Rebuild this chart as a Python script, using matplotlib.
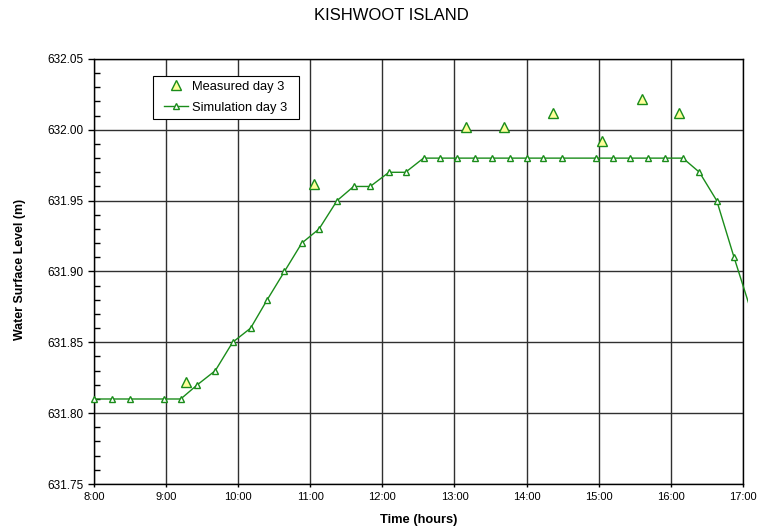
import numpy as np
import matplotlib
matplotlib.use("Agg")
from matplotlib import pyplot as plt
from matplotlib.transforms import Bbox, TransformedBbox
from matplotlib.legend_handler import HandlerLine2D

plt.rcParams['font.family'] = ['Liberation Sans', 'DejaVu Sans']

# simulated water level, day 3 (time in decimal hours)
sim_time = [8.00, 8.24, 8.49, 8.97, 9.20, 9.43, 9.68, 9.92, 10.17, 10.40,
            10.64, 10.88, 11.12, 11.37, 11.60, 11.83, 12.09, 12.32, 12.57, 12.80,
            13.04, 13.29, 13.52, 13.77, 14.00, 14.23, 14.49, 14.97, 15.20, 15.44,
            15.69, 15.92, 16.17, 16.40, 16.64, 16.88, 17.13]
sim_level = [631.81, 631.81, 631.81, 631.81, 631.81, 631.82, 631.83, 631.85, 631.86, 631.88,
             631.90, 631.92, 631.93, 631.95, 631.96, 631.96, 631.97, 631.97, 631.98, 631.98,
             631.98, 631.98, 631.98, 631.98, 631.98, 631.98, 631.98, 631.98, 631.98, 631.98,
             631.98, 631.98, 631.98, 631.97, 631.95, 631.91, 631.87]

# measured water level, day 3
meas_time = [9.28, 11.05, 13.16, 13.69, 14.37, 15.05, 15.60, 16.11]
meas_level = [631.822, 631.962, 632.002, 632.002, 632.012, 631.992, 632.022, 632.012]

hour_ticks = list(range(8, 18))
hour_labels = ['%d:00' % h for h in hour_ticks]

green = '#1a8c1a'

fig = plt.figure(figsize=(7.59, 5.31), dpi=100)
ax = fig.add_axes([0.1242, 0.0885, 0.8543, 0.8005])

meas, = ax.plot(meas_time, meas_level, linestyle='none', marker='^', markersize=7.5,
                markerfacecolor='#ffff99', markeredgecolor=green, markeredgewidth=1.0,
                label='Measured day 3  ', zorder=4)
line, = ax.plot(sim_time, sim_level, color=green, linewidth=1.0, marker='^', markersize=5,
                markerfacecolor='white', markeredgecolor=green, markeredgewidth=1.0,
                label='Simulation day 3  ', zorder=3)
# let the line run a little past the plot edge, like the original
clip = TransformedBbox(Bbox([[0, 0], [748 / 759, 1 - 60 / 531]]), fig.transFigure)
line.set_clip_path(None)
line.set_clip_box(clip)

ax.set_xlim(8, 17)
ax.set_ylim(631.75, 632.05)
ax.set_xticks(hour_ticks)
ax.set_xticklabels(hour_labels)
ax.set_yticks(np.arange(631.75, 632.051, 0.05))
ax.set_yticklabels(['%.2f' % v for v in np.arange(631.75, 632.051, 0.05)])
ax.set_yticks(np.arange(631.75, 632.05, 0.01), minor=True)

ax.tick_params(axis='both', which='major', length=4, width=1.0,
               direction='out', color='black')
ax.tick_params(axis='x', which='major', labelsize=8, length=2)
ax.tick_params(axis='y', which='major', labelsize=8.5)
ax.tick_params(axis='y', which='minor', length=4, width=1.0, direction='in')
ax.grid(True, which='major', color='#303030', linewidth=1.0)
for s in ax.spines.values():
    s.set_linewidth(1.0)
    s.set_color('black')

ax.set_xlabel('Time (hours)', fontsize=9.3, fontweight='bold', va='center')
ax.xaxis.set_label_coords(0.501, (484 - 519.7) / 425)
ax.set_ylabel('Water Surface Level (m)', fontsize=8.9, fontweight='bold', va='center')
ax.yaxis.set_label_coords((20 - 94.3) / 648.4, (484 - 269.3) / 425)
fig.text(391.7 / 759, 1 - 15.5 / 531, 'KISHWOOT ISLAND', fontsize=12, ha='center', va='center')

hmap = {meas: HandlerLine2D(xpad=0.47), line: HandlerLine2D(xpad=0.47)}
leg = ax.legend(loc='upper left', bbox_to_anchor=(0.090, 0.961), fontsize=9.3,
                handler_map=hmap,
                frameon=True, fancybox=False, edgecolor='black', framealpha=1,
                borderpad=0.4, handlelength=2.33, handletextpad=0.3, labelspacing=0.68,
                borderaxespad=0)
leg.get_frame().set_linewidth(0.8)

fig.savefig('out.png', dpi=100)
